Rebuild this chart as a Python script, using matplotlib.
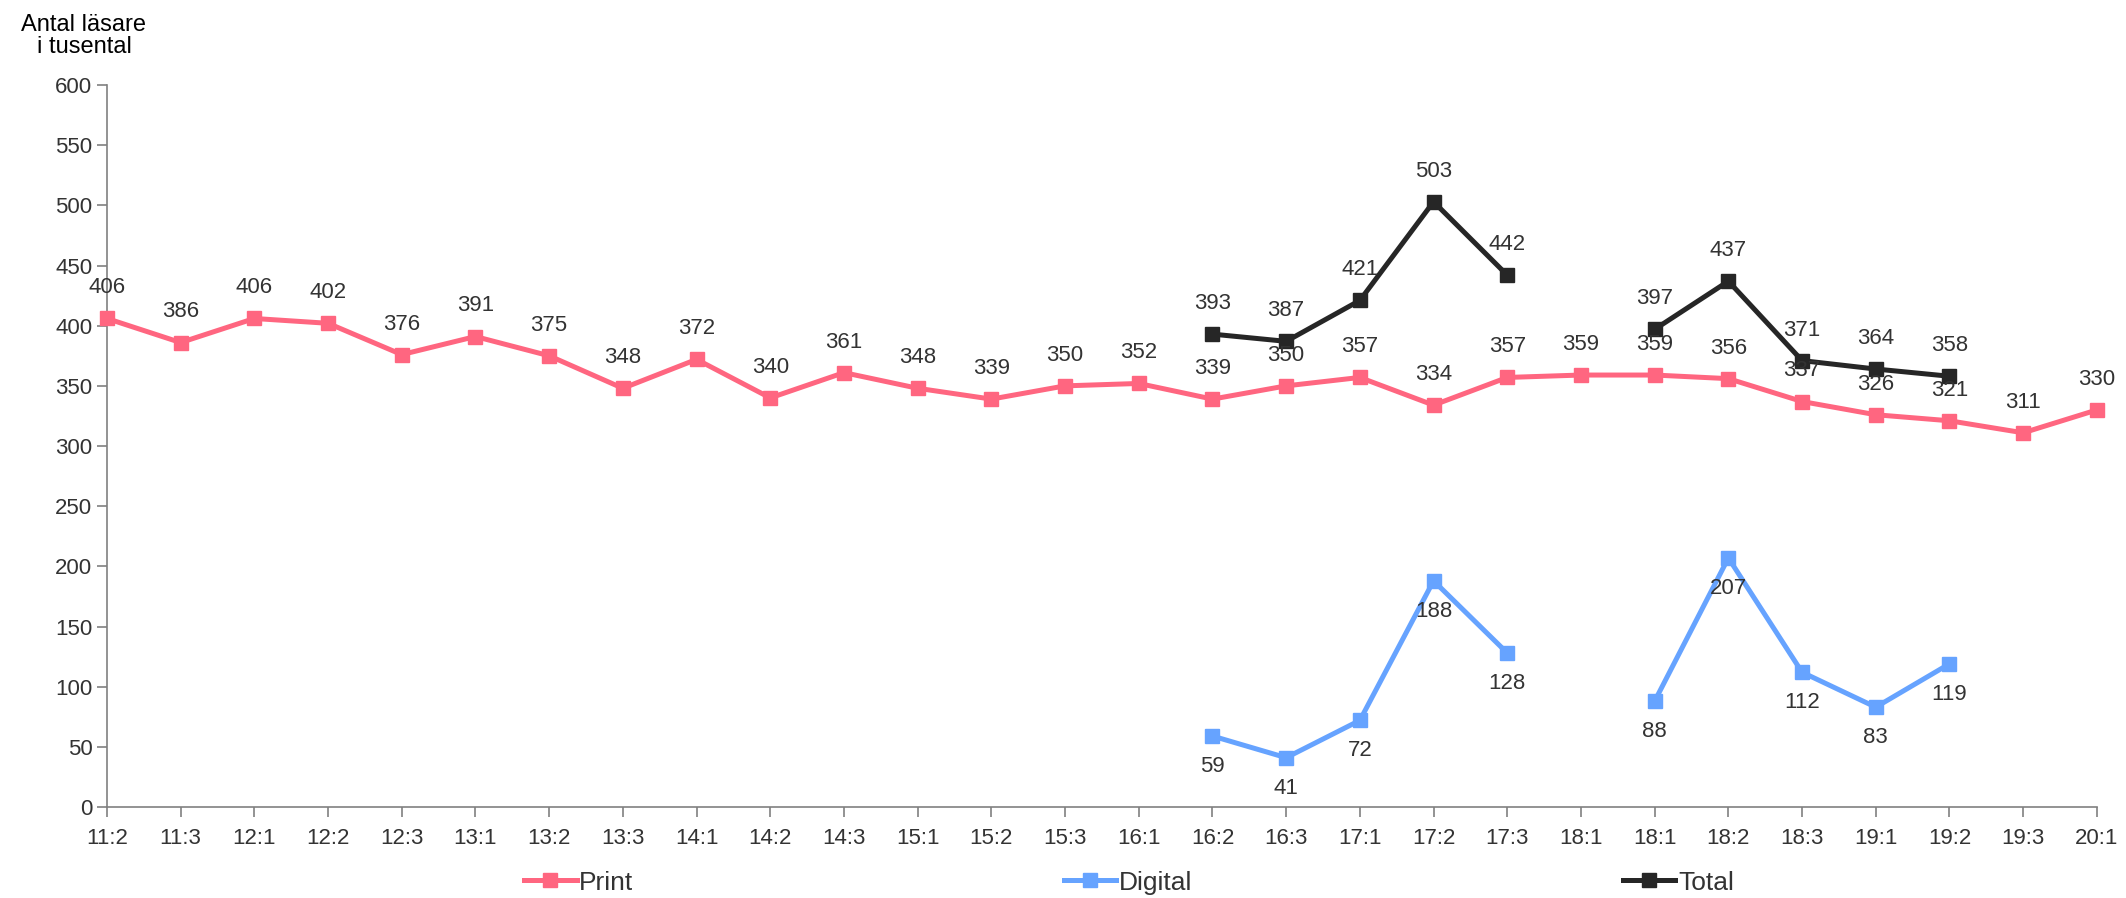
import numpy as np
import matplotlib.pyplot as plt

plt.rcParams['font.family'] = ['Liberation Sans', 'DejaVu Sans']

quarters = ['11:2', '11:3', '12:1', '12:2', '12:3', '13:1', '13:2', '13:3', '14:1', '14:2',
            '14:3', '15:1', '15:2', '15:3', '16:1', '16:2', '16:3', '17:1', '17:2', '17:3',
            '18:1', '18:1', '18:2', '18:3', '19:1', '19:2', '19:3', '20:1']
n = None
print_vals = [406, 386, 406, 402, 376, 391, 375, 348, 372, 340, 361, 348, 339, 350, 352,
              339, 350, 357, 334, 357, 359, 359, 356, 337, 326, 321, 311, 330]
digital_vals = [n, n, n, n, n, n, n, n, n, n, n, n, n, n, n,
                59, 41, 72, 188, 128, n, 88, 207, 112, 83, 119, n, n]
total_vals = [n, n, n, n, n, n, n, n, n, n, n, n, n, n, n,
              393, 387, 421, 503, 442, n, 397, 437, 371, 364, 358, n, n]

series = [
    ('Print', print_vals, '#ff6680', 22),
    ('Digital', digital_vals, '#66a3ff', -22),
    ('Total', total_vals, '#262626', 22),
]

fig = plt.figure(figsize=(21.26, 8.98), dpi=100)
ax = fig.add_axes([0.0503, 0.1013, 0.936, 0.8040])

x = np.arange(len(quarters))
txt_col = '#333333'
for name, vals, col, off in series:
    y = np.array([np.nan if v is None else v for v in vals], dtype=float)
    ax.plot(x, y, color=col, lw=3.6, marker='s', ms=10.5, label=name, clip_on=False, zorder=3)
    for xi, yi in zip(x, y):
        if np.isnan(yi):
            continue
        ax.annotate(str(int(yi)), (xi, yi), xytext=(0, off), textcoords='offset points',
                    ha='center', va='center', fontsize=16, color=txt_col, zorder=4)

ax.set_xlim(0, len(quarters) - 1)
ax.set_ylim(0, 600)
ax.set_yticks(np.arange(0, 601, 50))
ax.set_xticks(x)
ax.set_xticklabels(quarters)
for s in ['top', 'right']:
    ax.spines[s].set_visible(False)
for s in ['left', 'bottom']:
    ax.spines[s].set_color('#808080')
    ax.spines[s].set_linewidth(1.2)
ax.tick_params(axis='both', colors='#808080', labelcolor=txt_col, labelsize=16,
               length=7, width=1.2, direction='out')
ax.tick_params(axis='x', pad=8)

fig.text(0.0395, 0.960, 'Antal läsare\ni tusental', ha='center', va='center',
         fontsize=17, color='black', linespacing=1.0)

fig.legend(loc='center', bbox_to_anchor=(0.531, 0.017), ncol=3, frameon=False,
           fontsize=19, handlelength=2.0, columnspacing=16.3, handletextpad=0.1,
           labelcolor=txt_col)

fig.savefig('out.png', dpi=100)
